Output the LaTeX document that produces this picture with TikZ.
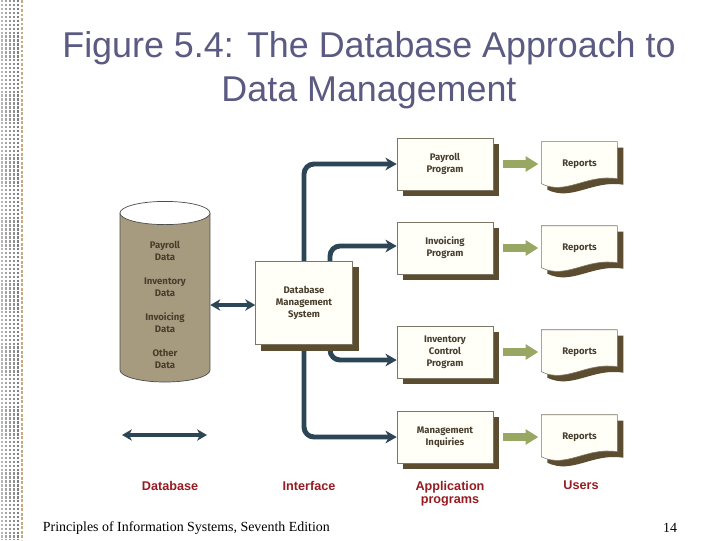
\documentclass[tikz,border=0pt]{standalone}
\usepackage{fontspec}
\setmainfont{Liberation Serif}
\setsansfont{Liberation Sans}
\newfontfamily\figfont{Fira Sans}
\usepackage{xcolor}
\usepackage{tikz}
\usetikzlibrary{arrows.meta,positioning,shadows,backgrounds}
\definecolor{darkteal}{RGB}{44,70,86}
\definecolor{shadowbrown}{RGB}{92,77,48}
\definecolor{tanfill}{RGB}{166,155,127}
\definecolor{boxfill}{RGB}{255,255,248}
\definecolor{boxline}{RGB}{125,118,100}
\definecolor{olive}{RGB}{152,168,98}
\definecolor{labelred}{RGB}{150,28,35}
\definecolor{titleslate}{RGB}{90,90,130}
\definecolor{textbrown}{RGB}{72,62,45}
\definecolor{tanline}{RGB}{200,170,130}

% wavy report sheet drawn round a node
\newcommand{\reportshape}[1]{%
  \begin{scope}[shift={(#1.north west)}]
    \fill[shadowbrown] (6,6) -- (82,6) -- (82,43) .. controls (51,38) and (31,60) .. (6,48) -- cycle;
    \filldraw[fill=boxfill, draw=boxline, line width=0.4pt] (0,0) -- (76,0) -- (76,37) .. controls (45,32) and (25,54) .. (0,42) -- cycle;
  \end{scope}}

\begin{document}
\begin{tikzpicture}[
    x=0.025cm, y=-0.025cm,
    node distance=1.2cm,
    prog/.style={draw=boxline, fill=boxfill, line width=0.4pt, minimum width=2.4cm, minimum height=1.3cm, align=center,
      font=\figfont\bfseries\fontsize{6.8}{8.5}\selectfont, text=textbrown,
      drop shadow={shadow xshift=0.15cm, shadow yshift=-0.15cm, fill=shadowbrown, opacity=1}},
    report/.style={minimum width=1.9cm, minimum height=1.1cm, inner sep=0pt, font=\figfont\bfseries\fontsize{6.8}{8.5}\selectfont, text=textbrown},
    link/.style={-{Stealth[length=8pt, width=9pt, inset=2.5pt]}, line width=3.5pt, darkteal, rounded corners=0.25cm},
    both/.style={{Stealth[length=7pt, width=8pt, inset=2pt]}-{Stealth[length=7pt, width=8pt, inset=2pt]}, line width=3pt, darkteal},
    flow/.style={-{Triangle[length=9pt, width=10.5pt]}, line width=5pt, olive, shorten <=0.25cm, shorten >=0.075cm},
    tag/.style={font=\sffamily\bfseries\fontsize{9}{9.5}\selectfont, text=labelred, align=center, anchor=north}
]
\useasboundingbox (0,0) rectangle (720,540);

% dotted strip on the left
\foreach \x/\c in {2/28,6/36,10/40,14/44,18/50}
  \draw[black!\c, line width=1.7pt, dash pattern=on 1.7pt off 1.1pt] (\x,0) -- (\x,540);
\draw[tanline, line width=0.8pt, dash pattern=on 2pt off 1.2pt] (22,0) -- (22,540);

\node[font=\sffamily\fontsize{25.5}{31}\selectfont, text=titleslate, align=center] (title) at (369,70)
  {Figure 5.4: The Database Approach to\\Data Management};

% database cylinder
\fill[tanfill] (120,213) rectangle (210,370);
\fill[tanfill] (165,370) ellipse [x radius=1.125cm, y radius=0.3cm];
\draw[black!70, line width=0.5pt] (120,213) -- (120,370) arc[start angle=180, end angle=360, x radius=1.125cm, y radius=0.3cm] -- (210,213);
\filldraw[fill=white, draw=black!70, line width=0.5pt] (165,213) ellipse [x radius=1.125cm, y radius=0.29cm];
\node[font=\figfont\bfseries\fontsize{6.8}{8.5}\selectfont, text=textbrown, align=center, minimum width=2.25cm, inner sep=0pt] (db) at (165,305)
  {Payroll\\Data\\[8.5pt]Inventory\\Data\\[8.5pt]Invoicing\\Data\\[8.5pt]Other\\Data};

\node[prog, minimum width=2.425cm, minimum height=2.075cm] (dbms) at (304,303) {Database\\Management\\System};

\node[prog] (prog1) at (445,164) {Payroll\\Program};
\node[prog] (prog2) at (445,248) {Invoicing\\Program};
\node[prog] (prog3) at (445,352) {Inventory\\Control\\Program};
\node[prog] (prog4) at (445,437) {Management\\Inquiries};

\node[report, right=of prog1] (rep1) {Reports};
\node[report, right=of prog2] (rep2) {Reports};
\node[report, right=of prog3] (rep3) {Reports};
\node[report, right=of prog4] (rep4) {Reports};

\coordinate (lgA) at (122,435);
\coordinate (lgB) at (207,435);

\begin{scope}[on background layer]
  \fill[white] (0,0) rectangle (720,540);
  \foreach \r in {rep1,rep2,rep3,rep4} {\reportshape{\r}}
  \draw[link] (dbms.center) |- (prog1.west);
  \draw[link] (dbms.center) |- (prog4.west);
  \draw[link] ([xshift=0.65cm]dbms.north) |- ([yshift=0.05cm]prog2.west);
  \draw[link] ([xshift=0.65cm]dbms.south) |- ([yshift=-0.2cm]prog3.west);
\end{scope}

\draw[both] (db.east) -- (db.east -| dbms.west);
\draw[both] (lgA) -- (lgB);
\foreach \i in {1,...,4}
  \draw[flow] (prog\i.east) -- (prog\i.east -| rep\i.west);

\node[tag] (lbdb) at (170,476) {Database};
\node[tag] (lbif) at (309,476) {Interface};
\node[tag] (lbap) at (450,476) {Application\\programs};
\node[tag] (lbus) at (581,476) {Users};

\node[anchor=west, font=\rmfamily\fontsize{9.9}{11}\selectfont] (foot) at (38,528) {Principles of Information Systems, Seventh Edition};
\node[font=\rmfamily\fontsize{9.9}{11}\selectfont] (pgno) at (670,528) {14};
\end{tikzpicture}
\end{document}
